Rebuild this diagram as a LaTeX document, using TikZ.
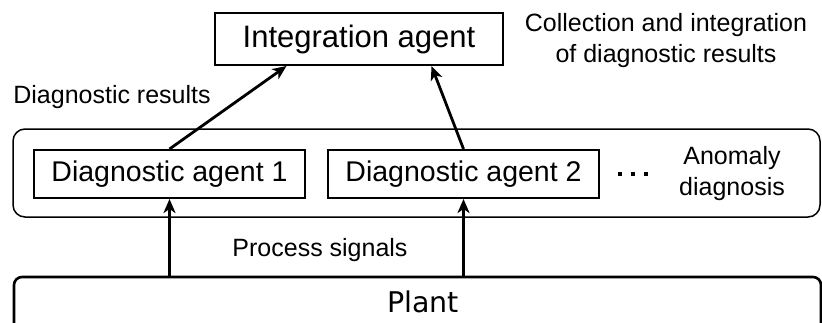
\documentclass[tikz,border=0pt]{standalone}
\usepackage{fontspec}
\setmainfont{Liberation Sans}
\newfontfamily\plantfont{DejaVu Sans}
\usetikzlibrary{arrows.meta,calc}

\tikzset{
	agentbox/.style={draw, line width=1pt, minimum width=135.5pt, minimum height=24pt,
		inner sep=0pt, font=\fontsize{14.25}{17}\selectfont},
	groupbox/.style={draw, line width=0.75pt, rounded corners=6pt, minimum width=403.5pt,
		minimum height=44pt, inner sep=0pt},
	lbl/.style={align=center, inner sep=0pt, font=\fontsize{12.5}{15.5}\selectfont},
	sig/.style={line width=1.4pt, -{Stealth[length=7pt, width=6pt, inset=2pt]}}
}

\begin{document}
\begin{tikzpicture}[x=0.5pt, y=-0.5pt]
		\useasboundingbox (0,0) rectangle (822,322);
		\clip (0,0) rectangle (822,322);
		\node[groupbox] (anom) at (416.5,173) {};
		% plant box runs off the bottom edge
		\node[draw, line width=1.3pt, rounded corners=4pt, minimum width=403.5pt, minimum height=31.5pt,
			inner sep=0pt] (plant) at (417.5,308.5) {};
		\node[font=\plantfont\fontsize{14.25}{17}\selectfont] at (423,302) {Plant};
		\node[agentbox, minimum width=144pt, minimum height=26pt,
			font=\fontsize{15.5}{18}\selectfont] (integ) at (359,39) {Integration agent};
		\node[agentbox] (diag1) at (169.5,174) {Diagnostic agent 1};
		\node[agentbox] (diag2) at (463.5,174) {Diagnostic agent 2};
		\foreach \x in {620,633,646}
			\fill (\x-2,172) rectangle (\x+2,176);
		\node[lbl] (res) at (112,97) {Diagnostic results};
		\node[lbl] (coll) at (666,41) {Collection and integration\\of diagnostic results};
		\node[lbl] (anlbl) at (732,174) {Anomaly\\diagnosis};
		\node[lbl] (proc) at (320,250) {Process signals};
		\draw[sig] (diag1.north) -- ($(integ.south west)!0.25!(integ.south east)$);
		\draw[sig] (diag2.north) -- ($(integ.south west)!0.75!(integ.south east)$);
		\draw[sig] (diag1.south |- plant.north) -- (diag1.south);
		\draw[sig] (diag2.south |- plant.north) -- (diag2.south);
		\end{tikzpicture}
\end{document}
